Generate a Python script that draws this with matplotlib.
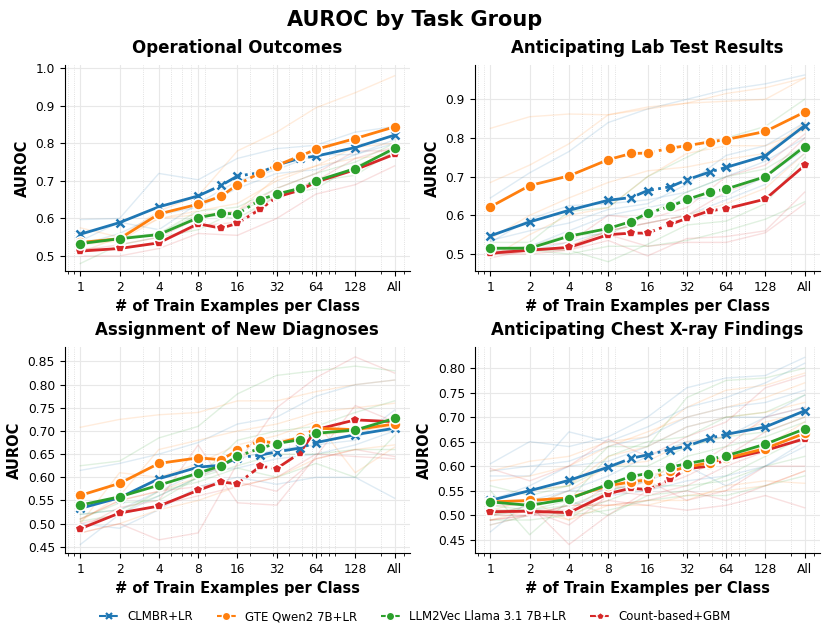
import matplotlib.pyplot as plt
import numpy as np

# x positions: number of train examples per class ("All" placed at 256)
shots = [1, 2, 4, 8, 12, 16, 24, 32, 48, 64, 128, 256]
shots_main = [1, 2, 4, 8, 16, 32, 64, 128, 256]
tick_labels = ["1", "2", "4", "8", "16", "32", "64", "128", "All"]

models = ["CLMBR+LR", "GTE Qwen2 7B+LR", "LLM2Vec Llama 3.1 7B+LR", "Count-based+GBM"]
colors = ["#1f77b4", "#ff7f0e", "#2ca02c", "#d62728"]
markers = ["x", "o", "o", "p"]

titles = ["Operational Outcomes", "Anticipating Lab Test Results",
          "Assignment of New Diagnoses", "Anticipating Chest X-ray Findings"]

# mean AUROC per model (order: CLMBR, GTE, LLM2Vec, Count-based)
op_mean = [
    [0.558, 0.589, 0.631, 0.660, 0.688, 0.713, 0.722, 0.742, 0.760, 0.766, 0.789, 0.822],
    [0.536, 0.546, 0.612, 0.638, 0.659, 0.690, 0.722, 0.741, 0.766, 0.784, 0.813, 0.844],
    [0.533, 0.546, 0.557, 0.602, 0.614, 0.612, 0.650, 0.665, 0.680, 0.700, 0.733, 0.787],
    [0.513, 0.520, 0.535, 0.586, 0.574, 0.587, 0.625, 0.657, 0.675, 0.697, 0.730, 0.771],
]
lab_mean = [
    [0.547, 0.583, 0.613, 0.639, 0.646, 0.664, 0.674, 0.692, 0.712, 0.724, 0.754, 0.832],
    [0.622, 0.677, 0.702, 0.744, 0.760, 0.761, 0.774, 0.780, 0.790, 0.796, 0.817, 0.867],
    [0.515, 0.515, 0.546, 0.566, 0.584, 0.606, 0.623, 0.641, 0.660, 0.668, 0.700, 0.778],
    [0.502, 0.510, 0.517, 0.550, 0.554, 0.554, 0.577, 0.592, 0.612, 0.617, 0.642, 0.729],
]
diag_mean = [
    [0.533, 0.556, 0.597, 0.622, 0.626, 0.642, 0.648, 0.655, 0.663, 0.675, 0.692, 0.706],
    [0.561, 0.587, 0.630, 0.642, 0.638, 0.658, 0.679, 0.673, 0.686, 0.706, 0.703, 0.715],
    [0.540, 0.558, 0.583, 0.609, 0.625, 0.645, 0.663, 0.673, 0.681, 0.695, 0.702, 0.727],
    [0.489, 0.523, 0.538, 0.572, 0.590, 0.586, 0.624, 0.619, 0.652, 0.703, 0.724, 0.720],
]
cxr_mean = [
    [0.530, 0.550, 0.571, 0.598, 0.616, 0.623, 0.634, 0.641, 0.657, 0.665, 0.680, 0.713],
    [0.527, 0.530, 0.535, 0.560, 0.568, 0.572, 0.590, 0.598, 0.607, 0.616, 0.636, 0.667],
    [0.527, 0.520, 0.533, 0.563, 0.579, 0.585, 0.598, 0.605, 0.614, 0.621, 0.645, 0.676],
    [0.507, 0.508, 0.505, 0.544, 0.555, 0.552, 0.573, 0.595, 0.600, 0.613, 0.632, 0.656],
]

# individual task curves (at shots_main), per model
op_tasks = [
    [[0.597, 0.600, 0.720, 0.703, 0.760, 0.786, 0.795, 0.830, 0.845],
     [0.530, 0.560, 0.610, 0.630, 0.680, 0.720, 0.730, 0.770, 0.810],
     [0.540, 0.590, 0.570, 0.640, 0.700, 0.730, 0.770, 0.770, 0.800]],
    [[0.575, 0.550, 0.620, 0.660, 0.780, 0.830, 0.895, 0.935, 0.980],
     [0.530, 0.540, 0.600, 0.620, 0.640, 0.700, 0.740, 0.790, 0.800],
     [0.510, 0.550, 0.600, 0.610, 0.620, 0.710, 0.740, 0.760, 0.770]],
    [[0.480, 0.530, 0.550, 0.570, 0.620, 0.660, 0.700, 0.715, 0.780],
     [0.540, 0.545, 0.560, 0.620, 0.630, 0.680, 0.720, 0.750, 0.800],
     [0.530, 0.550, 0.560, 0.610, 0.600, 0.660, 0.680, 0.740, 0.780]],
    [[0.500, 0.500, 0.520, 0.560, 0.555, 0.600, 0.665, 0.690, 0.740],
     [0.520, 0.520, 0.535, 0.580, 0.590, 0.660, 0.700, 0.760, 0.790],
     [0.515, 0.530, 0.550, 0.600, 0.620, 0.680, 0.720, 0.780, 0.780]],
]
lab_tasks = [
    [[0.645, 0.710, 0.765, 0.840, 0.875, 0.900, 0.925, 0.940, 0.963],
     [0.535, 0.560, 0.580, 0.615, 0.630, 0.680, 0.755, 0.780, 0.840],
     [0.530, 0.590, 0.625, 0.630, 0.640, 0.660, 0.700, 0.740, 0.800],
     [0.500, 0.520, 0.560, 0.600, 0.620, 0.640, 0.650, 0.700, 0.770],
     [0.510, 0.510, 0.530, 0.560, 0.580, 0.600, 0.640, 0.680, 0.760]],
    [[0.825, 0.855, 0.862, 0.860, 0.875, 0.890, 0.895, 0.900, 0.955],
     [0.685, 0.730, 0.785, 0.860, 0.880, 0.890, 0.915, 0.930, 0.955],
     [0.540, 0.600, 0.645, 0.685, 0.715, 0.725, 0.745, 0.760, 0.840],
     [0.490, 0.550, 0.600, 0.620, 0.700, 0.760, 0.780, 0.780, 0.820],
     [0.510, 0.510, 0.520, 0.560, 0.580, 0.600, 0.630, 0.670, 0.760]],
    [[0.530, 0.530, 0.610, 0.620, 0.700, 0.750, 0.800, 0.830, 0.900],
     [0.510, 0.520, 0.550, 0.550, 0.600, 0.660, 0.700, 0.720, 0.780],
     [0.500, 0.510, 0.510, 0.480, 0.525, 0.575, 0.585, 0.630, 0.750],
     [0.515, 0.510, 0.500, 0.520, 0.520, 0.535, 0.560, 0.590, 0.635]],
    [[0.500, 0.500, 0.510, 0.535, 0.495, 0.540, 0.545, 0.560, 0.660],
     [0.490, 0.510, 0.510, 0.550, 0.520, 0.530, 0.530, 0.555, 0.630],
     [0.500, 0.520, 0.530, 0.600, 0.590, 0.620, 0.700, 0.730, 0.810],
     [0.500, 0.505, 0.520, 0.560, 0.580, 0.600, 0.660, 0.700, 0.800]],
]
diag_tasks = [
    [[0.615, 0.630, 0.650, 0.675, 0.715, 0.730, 0.775, 0.800, 0.810],
     [0.455, 0.520, 0.560, 0.600, 0.640, 0.660, 0.670, 0.680, 0.745],
     [0.500, 0.490, 0.530, 0.580, 0.600, 0.585, 0.600, 0.600, 0.555],
     [0.520, 0.530, 0.570, 0.610, 0.620, 0.640, 0.650, 0.670, 0.700]],
    [[0.708, 0.725, 0.735, 0.740, 0.765, 0.765, 0.785, 0.800, 0.810],
     [0.505, 0.560, 0.660, 0.680, 0.700, 0.715, 0.740, 0.750, 0.760],
     [0.500, 0.610, 0.600, 0.630, 0.670, 0.690, 0.720, 0.610, 0.665],
     [0.510, 0.550, 0.570, 0.600, 0.640, 0.680, 0.690, 0.700, 0.710],
     [0.480, 0.500, 0.530, 0.550, 0.580, 0.600, 0.640, 0.660, 0.670]],
    [[0.625, 0.635, 0.685, 0.710, 0.780, 0.820, 0.830, 0.840, 0.830],
     [0.510, 0.545, 0.550, 0.600, 0.680, 0.700, 0.710, 0.740, 0.765],
     [0.505, 0.520, 0.570, 0.590, 0.620, 0.600, 0.630, 0.600, 0.690],
     [0.520, 0.530, 0.560, 0.600, 0.625, 0.650, 0.650, 0.660, 0.660]],
    [[0.480, 0.500, 0.465, 0.480, 0.630, 0.750, 0.815, 0.860, 0.825],
     [0.490, 0.535, 0.550, 0.670, 0.545, 0.540, 0.645, 0.755, 0.720],
     [0.510, 0.550, 0.570, 0.580, 0.590, 0.570, 0.640, 0.660, 0.645],
     [0.500, 0.520, 0.540, 0.560, 0.580, 0.600, 0.650, 0.645, 0.640]],
]
cxr_tasks = [
    [[0.605, 0.650, 0.640, 0.660, 0.700, 0.760, 0.780, 0.785, 0.822],
     [0.580, 0.580, 0.670, 0.650, 0.680, 0.720, 0.740, 0.770, 0.810],
     [0.590, 0.600, 0.610, 0.640, 0.660, 0.700, 0.720, 0.730, 0.755],
     [0.530, 0.560, 0.600, 0.610, 0.640, 0.680, 0.700, 0.700, 0.745],
     [0.466, 0.530, 0.550, 0.580, 0.620, 0.650, 0.660, 0.700, 0.720],
     [0.500, 0.520, 0.550, 0.550, 0.570, 0.600, 0.560, 0.600, 0.650],
     [0.480, 0.500, 0.520, 0.540, 0.550, 0.570, 0.580, 0.600, 0.640]],
    [[0.590, 0.610, 0.620, 0.650, 0.660, 0.720, 0.755, 0.765, 0.790],
     [0.570, 0.580, 0.600, 0.640, 0.670, 0.700, 0.720, 0.740, 0.770],
     [0.530, 0.550, 0.560, 0.620, 0.640, 0.680, 0.700, 0.710, 0.730],
     [0.500, 0.520, 0.550, 0.600, 0.610, 0.650, 0.660, 0.690, 0.710],
     [0.490, 0.510, 0.490, 0.550, 0.580, 0.600, 0.620, 0.640, 0.690],
     [0.510, 0.530, 0.490, 0.520, 0.520, 0.540, 0.550, 0.560, 0.590],
     [0.480, 0.500, 0.520, 0.520, 0.530, 0.530, 0.560, 0.570, 0.565]],
    [[0.560, 0.540, 0.560, 0.640, 0.640, 0.740, 0.775, 0.780, 0.800],
     [0.550, 0.460, 0.530, 0.620, 0.650, 0.660, 0.700, 0.710, 0.745],
     [0.530, 0.550, 0.560, 0.600, 0.600, 0.640, 0.660, 0.670, 0.700],
     [0.520, 0.510, 0.520, 0.550, 0.570, 0.620, 0.640, 0.660, 0.690],
     [0.500, 0.510, 0.500, 0.530, 0.560, 0.560, 0.570, 0.600, 0.620],
     [0.490, 0.490, 0.500, 0.510, 0.530, 0.540, 0.540, 0.560, 0.580],
     [0.510, 0.510, 0.530, 0.500, 0.540, 0.550, 0.580, 0.620, 0.660]],
    [[0.595, 0.570, 0.600, 0.655, 0.620, 0.660, 0.690, 0.760, 0.785],
     [0.520, 0.520, 0.440, 0.500, 0.550, 0.580, 0.620, 0.670, 0.700],
     [0.510, 0.510, 0.510, 0.560, 0.550, 0.590, 0.640, 0.700, 0.720],
     [0.500, 0.500, 0.500, 0.550, 0.540, 0.560, 0.600, 0.630, 0.660],
     [0.490, 0.500, 0.510, 0.530, 0.520, 0.510, 0.520, 0.540, 0.515],
     [0.500, 0.510, 0.480, 0.540, 0.570, 0.530, 0.550, 0.600, 0.600],
     [0.490, 0.500, 0.520, 0.520, 0.530, 0.550, 0.530, 0.560, 0.590]],
]

panel_means = [op_mean, lab_mean, diag_mean, cxr_mean]
panel_tasks = [op_tasks, lab_tasks, diag_tasks, cxr_tasks]
ylims = [(0.46, 1.008), (0.456, 0.988), (0.437, 0.881), (0.423, 0.843)]
yticks = [np.arange(0.5, 1.01, 0.1), np.arange(0.5, 0.91, 0.1),
          np.arange(0.45, 0.851, 0.05), np.arange(0.45, 0.801, 0.05)]
yfmt = ["{:.1f}", "{:.1f}", "{:.2f}", "{:.2f}"]

zorders = [4, 5, 6, 3]

fig, axes = plt.subplots(2, 2, figsize=(8.3, 6.34), dpi=100)
fig.subplots_adjust(left=0.078, right=0.988, top=0.897, bottom=0.128,
                    wspace=0.188, hspace=0.37)

for p, ax in enumerate(axes.flat):
    ax.set_xscale("log")
    # faint per-task curves
    for m in range(4):
        for task in panel_tasks[p][m]:
            ax.plot(shots_main, task, color=colors[m], alpha=0.14, lw=1.0, zorder=1)
    # mean curves: solid at the coarse ends, dash-dot through the dense middle
    for m in range(4):
        y = panel_means[p][m]
        z = zorders[m]
        ax.plot(shots[:4], y[:4], color=colors[m], lw=2, ls="-", zorder=z)
        ax.plot(shots[3:10], y[3:10], color=colors[m], lw=2, ls="-.", zorder=z)
        ax.plot(shots[9:], y[9:], color=colors[m], lw=2, ls="-", zorder=z)
        if markers[m] == "x":
            ax.plot(shots, y, ls="none", marker="x", ms=6, mew=1.8,
                    color=colors[m], zorder=z + 0.5)
        else:
            ax.plot(shots, y, ls="none", marker=markers[m],
                    ms=8 if markers[m] == "o" else 7.5,
                    mfc=colors[m], mec="white", mew=1.2, zorder=z + 0.5)

    ax.set_xticks(shots_main)
    ax.set_xticklabels(tick_labels)
    ax.set_xlim(0.76, 336)
    ax.set_ylim(*ylims[p])
    ax.set_yticks(yticks[p])
    ax.set_yticklabels([yfmt[p].format(v) for v in yticks[p]])
    ax.tick_params(axis="both", labelsize=8.8)
    ax.grid(True, which="major", color="#e8e8e8", lw=0.8)
    ax.grid(True, which="minor", axis="x", color="#d8d8d8", lw=0.6, ls=":")
    ax.set_axisbelow(True)
    ax.spines["top"].set_visible(False)
    ax.spines["right"].set_visible(False)
    ax.set_title(titles[p], fontsize=12, fontweight="bold", pad=9)
    ax.set_xlabel("# of Train Examples per Class", fontsize=10.5, fontweight="bold")
    ax.set_ylabel("AUROC", fontsize=10.5, fontweight="bold")

fig.suptitle("AUROC by Task Group", fontsize=15, fontweight="bold", y=0.985)

handles = []
for m in range(4):
    if markers[m] == "x":
        h, = plt.plot([], [], color=colors[m], lw=1.5, ls="--", marker="x", ms=5, mew=1.6)
    else:
        h, = plt.plot([], [], color=colors[m], lw=1.5, ls="--", marker=markers[m], ms=6,
                      mfc=colors[m], mec="white", mew=1)
    handles.append(h)
fig.legend(handles, models, loc="lower center", ncol=4, frameon=False,
           fontsize=8.5, bbox_to_anchor=(0.5, 0.0), handlelength=1.6, columnspacing=2.0)

plt.savefig("out.png", dpi=100)
